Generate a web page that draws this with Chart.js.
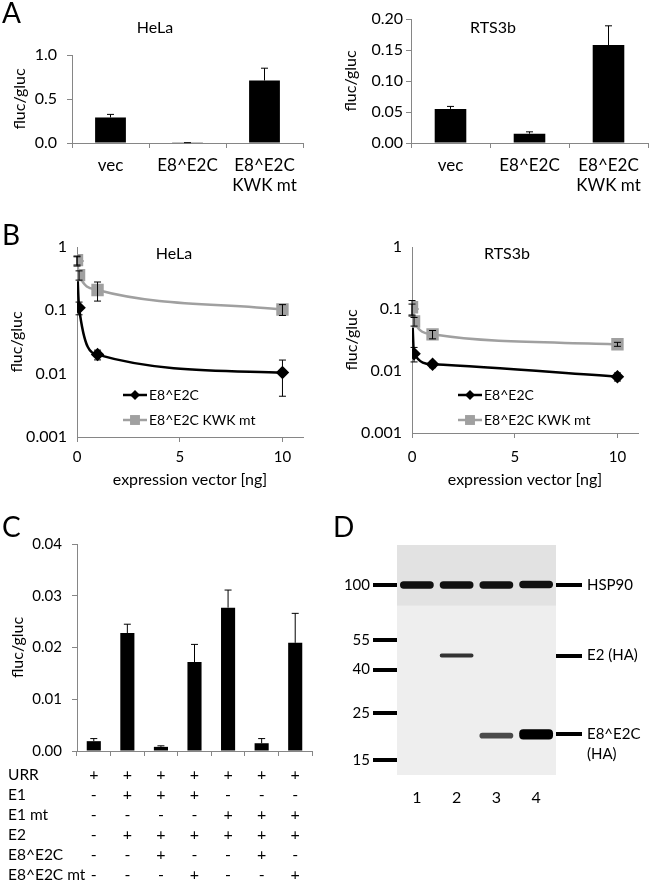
<!DOCTYPE html>
<html lang="en">
<head>
<meta charset="UTF-8">
<title>Luciferase assays and western blot</title>
<script src="https://cdn.jsdelivr.net/npm/chart.js"></script>
<style>
  body { margin: 0; background: #fff; font-family: Lato, sans-serif; color: #000; }
  #fig { position: relative; width: 650px; height: 882px; overflow: hidden; }
  canvas { position: absolute; }
  .t { position: absolute; font-size: 16px; line-height: 1; white-space: nowrap; transform: translate(-50%, -50%); }
  .row { position: absolute; left: 8px; font-size: 15.5px; line-height: 1; white-space: nowrap; transform: translateY(-50%); }
  .letter { position: absolute; font-size: 28px; line-height: 28px; }
</style>
</head>
<body>
<div id="fig">
  <canvas id="aHela" style="left:0;top:0" width="325" height="200"></canvas>
  <canvas id="aRts" style="left:325px;top:0" width="325" height="200"></canvas>
  <canvas id="bHela" style="left:0;top:200px" width="325" height="290"></canvas>
  <canvas id="bRts" style="left:325px;top:200px" width="325" height="290"></canvas>
  <canvas id="cBar" style="left:0;top:500px" width="320" height="382"></canvas>
  <canvas id="dBlot" style="left:320px;top:510px" width="330" height="300"></canvas>

  <div class="letter" style="left:2px;top:-2px">A</div>
  <div class="letter" style="left:2px;top:220px">B</div>
  <div class="letter" style="left:2px;top:512px">C</div>
  <div class="letter" style="left:333px;top:512px">D</div>

  <div class="t" style="left:155px;top:27px">HeLa</div>
  <div class="t" style="left:493px;top:27px">RTS3b</div>
  <div class="t" style="left:174px;top:253px">HeLa</div>
  <div class="t" style="left:507px;top:253px">RTS3b</div>

  <div id="rowsC"></div>
</div>

<script>
// ---- panel A: fluc/gluc per construct
var catA = ['vec', 'E8^E2C', ['E8^E2C', 'KWK mt']];
var helaA = [0.29, 0.003, 0.71];
var helaAErr = [0.035, 0.001, 0.14];
var rtsA = [0.055, 0.015, 0.158];
var rtsAErr = [0.004, 0.003, 0.031];

// ---- panel B: dose response (ng expression vector)
var seriesB = ['E8^E2C', 'E8^E2C KWK mt'];
var doseB = [0, 0.1, 1, 10];
var xTicksB = [0, 5, 10];
var yTicksB = [0.001, 0.01, 0.1, 1];
var helaE8 = [0.6, 0.11, 0.020, 0.0104];
var helaE8Err = [0.1, 0.025, 0.0035, 0.006];
var helaKwk = [0.62, 0.36, 0.21, 0.103];
var helaKwkErr = [0.1, 0.06, 0.07, 0.02];
var rtsE8 = [0.1, 0.019, 0.0128, 0.0081];
var rtsE8Err = [0.02, 0.005, 0.0015, 0.0012];
var rtsKwk = [0.107, 0.063, 0.039, 0.027];
var rtsKwkErr = [0.03, 0.01, 0.006, 0.002];

// ---- panel C: replication assay
var valC = [0.0019, 0.0228, 0.0008, 0.0172, 0.0277, 0.0015, 0.0209];
var errC = [0.0005, 0.0017, 0.0002, 0.0034, 0.0034, 0.0009, 0.0057];
var rowNamesC = ['URR', 'E1', 'E1 mt', 'E2', 'E8^E2C', 'E8^E2C mt'];
var rowsC = [
  ['+', '+', '+', '+', '+', '+', '+'],
  ['-', '+', '+', '+', '-', '-', '-'],
  ['-', '-', '-', '-', '+', '+', '+'],
  ['-', '+', '+', '+', '+', '+', '+'],
  ['-', '-', '+', '-', '-', '+', '-'],
  ['-', '-', '-', '+', '-', '-', '+']
];

// ---- panel D: western blot (kDa)
var lanesD = ['1', '2', '3', '4'];
var markersD = [100, 55, 40, 25, 15];
var bandSizesD = [100, 46.6, 19.9];
var bandNamesD = ['HSP90', 'E2 (HA)', ['', 'E8^E2C', '(HA)']];
var hspBand = [[96, 104], [96, 104], [96, 104], [96.5, 104.5]];
var e2Band = [null, [45.6, 47.6], null, null];
var e8Band = [null, null, [19.0, 20.2], [18.8, 21.0]];

Chart.defaults.font.family = 'Lato, sans-serif';
Chart.defaults.font.size = 15;
Chart.defaults.color = '#000';
var axisGray = '#868686';

// error bars (Excel style), drawn from dataset.errors
var errorBars = {
  id: 'errorBars',
  afterDatasetsDraw: function (chart) {
    var ctx = chart.ctx, ys = chart.scales.y;
    chart.data.datasets.forEach(function (ds, i) {
      if (!ds.errors) return;
      var meta = chart.getDatasetMeta(i);
      ctx.save();
      ctx.strokeStyle = '#000';
      ctx.lineWidth = 1;
      meta.data.forEach(function (el, j) {
        var d = ds.data[j];
        var v = typeof d === 'object' ? d.y : d;
        var e = ds.errors[j];
        var top = ys.getPixelForValue(v + e);
        var low = v - e > ys.min ? v - e : ys.min;
        var bot = ds.errorBoth ? ys.getPixelForValue(low) : ys.getPixelForValue(v);
        ctx.beginPath();
        ctx.moveTo(el.x, top); ctx.lineTo(el.x, bot);
        ctx.moveTo(el.x - 3.5, top); ctx.lineTo(el.x + 3.5, top);
        if (ds.errorBoth && v - e > ys.min) { ctx.moveTo(el.x - 3.5, bot); ctx.lineTo(el.x + 3.5, bot); }
        ctx.stroke();
      });
      ctx.restore();
    });
  }
};

function drawMarker(ctx, style, x, y, r, color) {
  ctx.fillStyle = color;
  ctx.beginPath();
  if (style === 'rectRot') {
    ctx.moveTo(x, y - r); ctx.lineTo(x + r, y); ctx.lineTo(x, y + r); ctx.lineTo(x - r, y);
    ctx.closePath();
  } else {
    var s = r * Math.SQRT1_2;
    ctx.rect(x - s, y - s, 2 * s, 2 * s);
  }
  ctx.fill();
}

// legend inside the plot area, lines with markers
var inLegend = {
  id: 'inLegend',
  afterDraw: function (chart, args, opts) {
    var ctx = chart.ctx, a = chart.chartArea;
    chart.data.datasets.forEach(function (ds, i) {
      var x = a.left + opts.dx, y = a.top + opts.dy + i * opts.gap;
      ctx.save();
      ctx.strokeStyle = ds.borderColor;
      ctx.lineWidth = ds.borderWidth;
      ctx.beginPath(); ctx.moveTo(x, y); ctx.lineTo(x + 24, y); ctx.stroke();
      drawMarker(ctx, ds.pointStyle, x + 12, y, ds.pointRadius, ds.backgroundColor);
      ctx.fillStyle = '#000';
      ctx.font = '14px Lato, sans-serif';
      ctx.textBaseline = 'middle';
      ctx.fillText(ds.label, x + 26, y);
      ctx.restore();
    });
  }
};

// blot background
var blotBg = {
  id: 'blotBg',
  beforeDatasetsDraw: function (chart, args, opts) {
    var a = chart.chartArea, ctx = chart.ctx;
    var ySplit = chart.scales.y.getPixelForValue(opts.split);
    ctx.save();
    ctx.fillStyle = '#eeeeee';
    ctx.fillRect(a.left, a.top, a.right - a.left, a.bottom - a.top);
    ctx.fillStyle = '#e2e2e2';
    ctx.fillRect(a.left, a.top, a.right - a.left, ySplit - a.top);
    ctx.restore();
  }
};

function barA(id, values, errs, yMax, yStep, digits, g) {
  return new Chart(document.getElementById(id), {
    type: 'bar',
    data: {
      labels: catA,
      datasets: [{ data: values, errors: errs, backgroundColor: '#000', barPercentage: 0.4, categoryPercentage: 1 }]
    },
    options: {
      responsive: false,
      animation: false,
      layout: { padding: { top: g.top, right: g.right, left: 0, bottom: 0 } },
      plugins: { legend: { display: false }, tooltip: { enabled: false } },
      scales: {
        x: {
          afterFit: function (s) { s.height = 57; },
          grid: { offset: true, drawOnChartArea: false, tickLength: 5, color: axisGray },
          border: { color: axisGray },
          ticks: { padding: 7, maxRotation: 0, font: { size: 17, lineHeight: 1.2 } }
        },
        y: {
          min: 0, max: yMax,
          afterFit: function (s) { s.width = g.yw; },
          grid: { drawOnChartArea: false, tickLength: 5, color: axisGray },
          border: { color: axisGray },
          ticks: { stepSize: yStep, padding: g.yp, font: { size: 16 }, callback: function (v) { return v.toFixed(digits); } },
          title: { display: true, text: 'fluc/gluc', font: { size: 16 }, padding: g.tp }
        }
      }
    },
    plugins: [errorBars]
  });
}

barA('aHela', helaA, helaAErr, 1.0, 0.5, 1, { top: 55, right: 22, yw: 72, yp: 10, tp: 10 });
barA('aRts', rtsA, rtsAErr, 0.2, 0.05, 2, { top: 19, right: 2, yw: 86, yp: 3, tp: 16 });

function lineB(id, e8, e8Err, kwk, kwkErr, g) {
  function pts(ys) { return doseB.map(function (x, i) { return { x: x, y: ys[i] }; }); }
  return new Chart(document.getElementById(id), {
    type: 'line',
    data: {
      datasets: [
        { label: seriesB[0], data: pts(e8), errors: e8Err, errorBoth: true, order: 1,
          borderColor: '#000', backgroundColor: '#000', pointBorderColor: '#000', borderWidth: 2.5,
          pointStyle: 'rectRot', pointRadius: 5, cubicInterpolationMode: 'monotone' },
        { label: seriesB[1], data: pts(kwk), errors: kwkErr, errorBoth: true, order: 0,
          borderColor: '#a0a0a0', backgroundColor: '#a0a0a0', pointBorderColor: '#a0a0a0', borderWidth: 2.5,
          pointStyle: 'rect', pointRadius: 7, cubicInterpolationMode: 'monotone' }
      ]
    },
    options: {
      responsive: false,
      animation: false,
      layout: { padding: { top: 47, right: g.right, left: 0, bottom: 0 } },
      plugins: { legend: { display: false }, tooltip: { enabled: false }, inLegend: { dx: 46, dy: 148, gap: 25 } },
      scales: {
        x: {
          type: 'linear', min: 0, max: 11,
          afterFit: function (s) { s.height = g.xh; },
          afterBuildTicks: function (s) { s.ticks = xTicksB.map(function (v) { return { value: v }; }); },
          grid: { drawOnChartArea: false, tickLength: 5, color: axisGray },
          border: { color: axisGray },
          ticks: { padding: g.xp, font: { size: 15 } },
          title: { display: true, text: 'expression vector [ng]', font: { size: 16 }, padding: { top: 0, bottom: 0.4 } }
        },
        y: {
          type: 'logarithmic', min: 0.001, max: 1,
          afterFit: function (s) { s.width = g.yw; },
          afterBuildTicks: function (s) { s.ticks = yTicksB.map(function (v) { return { value: v }; }); },
          grid: { display: false, drawTicks: false },
          border: { color: axisGray },
          ticks: { padding: 10, font: { size: 16 }, callback: function (v) { return String(v); } },
          title: { display: true, text: 'fluc/gluc', font: { size: 16 }, padding: g.tp }
        }
      }
    },
    plugins: [errorBars, inLegend]
  });
}

lineB('bHela', helaE8, helaE8Err, helaKwk, helaKwkErr, { right: 22, yw: 77, xh: 53, xp: 6, tp: 7 });
lineB('bRts', rtsE8, rtsE8Err, rtsKwk, rtsKwkErr, { right: 12, yw: 87, xh: 57, xp: 10, tp: 17 });

// panel C: the +/- table is the category label of each bar
var labelsC = valC.map(function (_, i) { return rowsC.map(function (r) { return r[i]; }); });
new Chart(document.getElementById('cBar'), {
  type: 'bar',
  data: {
    labels: labelsC,
    datasets: [{ data: valC, errors: errC, backgroundColor: '#000', barPercentage: 0.42, categoryPercentage: 1 }]
  },
  options: {
    responsive: false,
    animation: false,
    layout: { padding: { top: 44, right: 8, left: 0, bottom: 0 } },
    plugins: { legend: { display: false }, tooltip: { enabled: false } },
    scales: {
      x: {
        afterFit: function (s) { s.height = 131; },
        grid: { offset: true, drawOnChartArea: false, tickLength: 5, color: axisGray },
        border: { color: axisGray },
        ticks: { padding: 9.3, maxRotation: 0, autoSkip: false, font: { size: 16, lineHeight: '20px' } }
      },
      y: {
        min: 0, max: 0.04,
        afterFit: function (s) { s.width = 77; },
        grid: { drawOnChartArea: false, tickLength: 5, color: axisGray },
        border: { color: axisGray },
        ticks: { stepSize: 0.01, padding: 10, font: { size: 15 }, callback: function (v) { return v.toFixed(2); } },
        title: { display: true, text: 'fluc/gluc', font: { size: 16 }, padding: 8 }
      }
    }
  },
  plugins: [errorBars]
});

var rowsDiv = document.getElementById('rowsC');
rowNamesC.forEach(function (name, i) {
  var d = document.createElement('div');
  d.className = 'row';
  d.style.top = (775 + i * 20) + 'px';
  d.textContent = name;
  rowsDiv.appendChild(d);
});

// panel D: bands as floating bars on a kDa (log) axis
new Chart(document.getElementById('dBlot'), {
  type: 'bar',
  data: {
    labels: lanesD,
    datasets: [
      { data: hspBand, backgroundColor: '#111' },
      { data: e2Band, backgroundColor: '#333' },
      { data: e8Band, backgroundColor: ['#000', '#000', '#4a4a4a', '#000'] }
    ]
  },
  options: {
    responsive: false,
    animation: false,
    datasets: { bar: { grouped: false, barPercentage: 0.85, categoryPercentage: 1, borderRadius: 4, borderSkipped: false } },
    layout: { padding: { top: 23, right: 0, left: 0, bottom: 0 } },
    plugins: { legend: { display: false }, tooltip: { enabled: false }, blotBg: { split: 80 } },
    scales: {
      x: {
        afterFit: function (s) { s.height = 35; },
        grid: { display: false, drawTicks: false },
        border: { display: false },
        ticks: { padding: 13, font: { size: 16 } }
      },
      y: {
        type: 'logarithmic', min: 12.8, max: 154,
        afterFit: function (s) { s.width = 77; },
        afterBuildTicks: function (s) { s.ticks = markersD.map(function (v) { return { value: v }; }); },
        grid: { drawOnChartArea: false, tickLength: 24, lineWidth: 4, color: '#000' },
        border: { display: false },
        ticks: { padding: 3, font: { size: 15 }, callback: function (v) { return String(v); } }
      },
      y2: {
        type: 'logarithmic', position: 'right', min: 12.8, max: 154,
        afterFit: function (s) { s.width = 94; },
        afterBuildTicks: function (s) { s.ticks = bandSizesD.map(function (v) { return { value: v }; }); },
        grid: { drawOnChartArea: false, tickLength: 26, lineWidth: 4, color: '#000' },
        border: { display: false },
        ticks: { padding: 5, font: { size: 15, lineHeight: '20px' }, callback: function (v, i) { return bandNamesD[i]; } }
      }
    }
  },
  plugins: [blotBg]
});
</script>
</body>
</html>
